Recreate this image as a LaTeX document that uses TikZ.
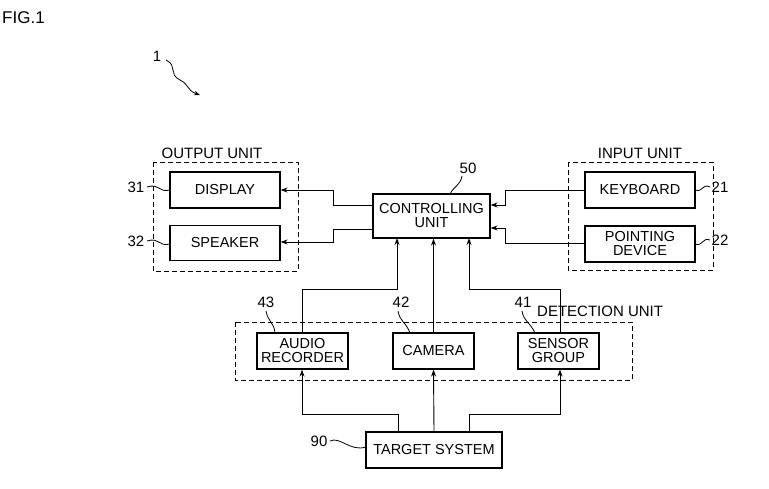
\documentclass[tikz,border=0pt]{standalone}
\usepackage{fontspec}
\setmainfont{Liberation Sans}
\usetikzlibrary{arrows.meta}
\begin{document}
\begin{tikzpicture}[x=1pt,y=-1pt,
  box/.style={draw,line width=1.2pt,inner sep=0pt,font=\fontsize{14.5}{14}\selectfont,align=center},
  grp/.style={draw,dashed,line width=0.8pt,dash pattern=on 5pt off 3pt},
  lab/.style={font=\fontsize{15}{15}\selectfont,inner sep=1pt},
  ar/.style={-{Stealth[length=7pt,width=5pt]},line width=0.9pt},
  ld/.style={line width=0.8pt}]
\useasboundingbox (0,0) rectangle (769,489);
\node[lab,anchor=west,font=\fontsize{17}{17}\selectfont] (fig) at (1,18) {FIG.1};
\node[lab] (n1) at (157,56) {1};
\draw[ld,-{Stealth[length=6pt,width=4.5pt]}] (166,60) .. controls (178,66) and (168,74) .. (180,80) .. controls (190,85) and (186,90) .. (200,95);
% groups
\draw[grp] (153,162) rectangle (298,271);
\node[lab] (ou) at (212,153) {OUTPUT UNIT};
\draw[grp] (568,162) rectangle (713,270);
\node[lab] (iu) at (640,153) {INPUT UNIT};
\draw[grp] (235,322) rectangle (632,380);
\node[lab,anchor=west] (du) at (536,311) {DETECTION UNIT};
% boxes
\node[box,minimum width=110pt,minimum height=36pt] (disp) at (225,190) {DISPLAY};
\node[box,minimum width=110pt,minimum height=35pt] (spk) at (225,243) {SPEAKER};
\node[box,minimum width=117pt,minimum height=44pt] (ctl) at (431.5,216) {CONTROLLING\\UNIT};
\node[box,minimum width=110pt,minimum height=36pt] (kb) at (640,190) {KEYBOARD};
\node[box,minimum width=110pt,minimum height=36pt] (pd) at (640,244) {POINTING\\DEVICE};
\node[box,minimum width=91pt,minimum height=36pt] (aud) at (302.5,351) {AUDIO\\RECORDER};
\node[box,minimum width=81pt,minimum height=36pt] (cam) at (433.5,351) {CAMERA};
\node[box,minimum width=81pt,minimum height=36pt] (sen) at (558.5,351) {SENSOR\\GROUP};
\node[box,minimum width=136pt,minimum height=36pt] (tgt) at (434,450) {TARGET SYSTEM};
% ref numbers
\node[lab] (r50) at (468,168) {50};
\draw[ld] (462,176) .. controls (460,186) and (454,186) .. (450,194);
\node[lab] (r31) at (136,187) {31};
\draw[ld] (147,187) .. controls (160,183) and (158,193) .. (170,190);
\node[lab] (r32) at (136,241) {32};
\draw[ld] (147,241) .. controls (160,237) and (158,247) .. (170,244);
\node[lab] (r21) at (720,187) {21};
\draw[ld] (695,190) .. controls (703,193) and (702,183) .. (710,187);
\node[lab] (r22) at (720,240) {22};
\draw[ld] (695,244) .. controls (703,247) and (702,237) .. (710,240);
\node[lab] (r43) at (266,302) {43};
\draw[ld] (266,311) .. controls (268,322) and (274,322) .. (275,333);
\node[lab] (r42) at (401,302) {42};
\draw[ld] (398,311) .. controls (400,322) and (406,322) .. (410,333);
\node[lab] (r41) at (523,302) {41};
\draw[ld] (522,311) .. controls (524,322) and (530,322) .. (535,333);
\node[lab] (r90) at (319,441) {90};
\draw[ld] (330,441) .. controls (340,436) and (350,452) .. (366,447);
% connectors
\draw[ar] (ctl.west |- 0,205) -| (333,190) -- (disp.east);
\draw[ar] (ctl.west |- 0,229) -| (333,242) -- (spk.east |- 0,242);
\draw[ar] (kb.west) -| (505,205) -- (ctl.east |- 0,205);
\draw[ar] (pd.west |- 0,243) -| (505,228) -- (ctl.east |- 0,228);
\draw[ar] (aud.north -| 302,0) |- (397,289) -- (397,238);
\draw[ar] (cam.north) -- (cam.north |- ctl.south);
\draw[ar] (sen.north -| 560,0) |- (469,289) -- (469,238);
\draw[ar] (tgt.north -| 398,0) |- (302,414) -- (aud.south -| 302,0);
\draw[ar] (tgt.north) -- (cam.south);
\draw[ar] (tgt.north -| 469,0) |- (560,414) -- (sen.south -| 560,0);
\end{tikzpicture}
\end{document}
